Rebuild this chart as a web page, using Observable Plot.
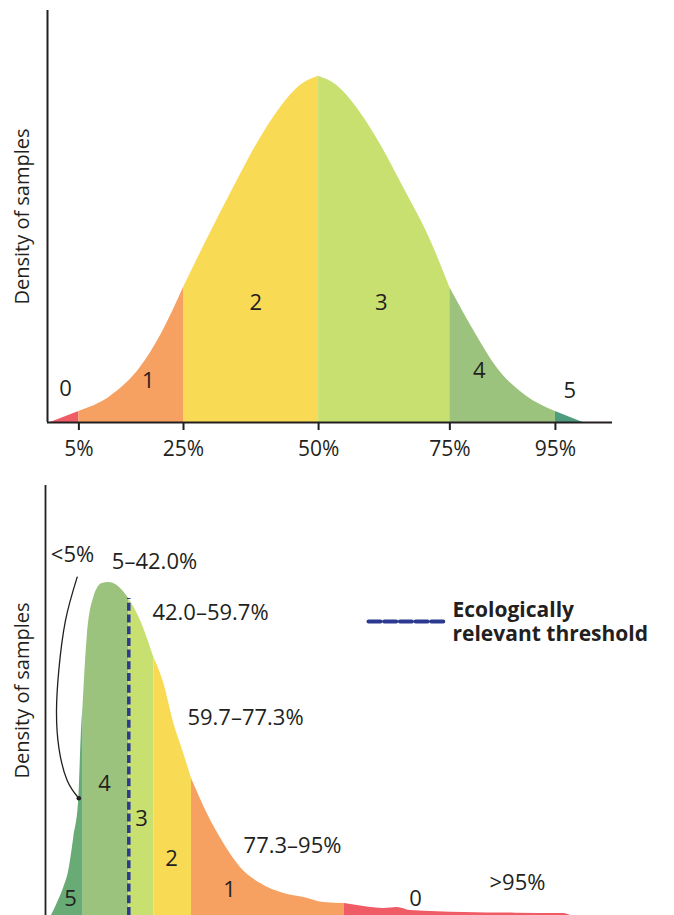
<!DOCTYPE html>
<html><head><meta charset="utf-8">
<script src="https://cdn.jsdelivr.net/npm/d3@7"></script>
<script src="https://cdn.jsdelivr.net/npm/@observablehq/plot@0.6"></script>
<style>
html,body{margin:0;padding:0;background:#fff;overflow:hidden}
#top,#bottom{display:block;line-height:0}
svg{display:block}
</style></head><body>
<div id="top"></div><div id="bottom"></div>
<script>
// ---------- Top panel: symmetric density (x in SD from the median) ----------
const topX = [-2.82, -2.52, -2.19, -1.87, -1.66, -1.42, -1.17, -0.89, -0.64, -0.40, -0.19, 0, 0.19, 0.40, 0.64, 0.89, 1.17, 1.38, 1.66, 1.87, 2.19, 2.49, 2.78];
const topDensity = [0, 0.032, 0.075, 0.16, 0.252, 0.39, 0.53, 0.68, 0.808, 0.91, 0.974, 1, 0.974, 0.91, 0.808, 0.68, 0.53, 0.39, 0.252, 0.16, 0.075, 0.032, 0];
const topBreaks = [-2.52, -1.42, 0, 1.38, 2.49];
const topTickLabels = ["5%", "25%", "50%", "75%", "95%"];
const topScores = ["0", "1", "2", "3", "4", "5"];
const topScoreX = [-2.66, -1.79, -0.66, 0.66, 1.69, 2.64];
const topScoreY = [0.098, 0.121, 0.344, 0.344, 0.150, 0.09];

// ---------- Bottom panel: right-skewed density ----------
const bottomX = [0.6, 1.17, 1.83, 2.33, 2.83, 3.33, 3.57, 3.77, 4.17, 4.83, 5.67, 6.33, 7.17, 8.33, 9.5, 10.83, 11.83, 12.83, 13.83, 14.6, 16.17, 17.83, 19.5, 21.5, 23.83, 25.83, 27.83, 29.9, 31.83, 33.83, 35.17, 36.5, 41.83, 47.0, 51.83, 52.5];
const bottomDensity = [0, 0.036, 0.084, 0.135, 0.234, 0.351, 0.535, 0.637, 0.835, 0.955, 0.997, 1.0, 0.991, 0.952, 0.886, 0.775, 0.697, 0.577, 0.486, 0.411, 0.306, 0.216, 0.144, 0.096, 0.066, 0.054, 0.039, 0.036, 0.027, 0.021, 0.024, 0.015, 0.009, 0.007, 0.006, 0];
const bottomBreaks = [3.77, 8.33, 10.83, 14.6, 29.9];
const bottomScores = ["5", "4", "3", "2", "1", "0"];
const bottomScoreX = [2.5, 5.9, 9.6, 12.6, 18.4, 37.0];
const bottomScoreY = [0.05, 0.396, 0.291, 0.171, 0.078, 0.05];
const rangeLabels = ["<5%", "5–42.0%", "42.0–59.7%", "59.7–77.3%", "77.3–95%", ">95%"];
const rangeLabelX = [2.7, 10.9, 16.5, 20.0, 24.7, 47.2];
const rangeLabelY = [1.081, 1.06, 0.907, 0.592, 0.21, 0.099];
const threshold = 8.33;
const thresholdTop = 0.952;
const leaderX = [3.17, 2.0, 1.33, 1.1, 1.33, 2.17, 3.33];
const leaderY = [1.016, 0.886, 0.736, 0.616, 0.505, 0.405, 0.352];
const legendLabel = "Ecologically\nrelevant threshold";
const legendX = [32.3, 39.8];
const legendY = 0.883;
const legendTextX = 40.7;

// ---------- Colours ----------
const scoreColors = {"0": "#ef5c66", "1": "#f6a062", "2": "#f9da55", "3": "#c8e070", "4": "#9cc37d"};
const topFive = "#4e9c7e";
const bottomFive = "#68ab75";
const ink = "#231f20";
const blue = "#2b3990";
const FONT = "'Open Sans', 'Noto Sans', sans-serif";

function bands(xs, ys, breaks, labels) {
  const rows = [];
  labels.forEach((lab, i) => {
    const lo = i === 0 ? -Infinity : breaks[i - 1];
    const hi = i === labels.length - 1 ? Infinity : breaks[i];
    xs.forEach((x, j) => {
      if (x >= lo - 1e-9 && x <= hi + 1e-9) rows.push({x, d: ys[j], band: lab});
    });
  });
  return rows;
}

const topRows = bands(topX, topDensity, topBreaks, topScores);
const bottomRows = bands(bottomX, bottomDensity, bottomBreaks, bottomScores);

const topPlot = Plot.plot({
  width: 674, height: 470,
  marginLeft: 47, marginRight: 62, marginTop: 10, marginBottom: 48,
  x: {domain: [-2.85, 3.09], label: null},
  y: {domain: [0, 1.19], axis: null},
  color: {domain: topScores, range: topScores.map(s => s === "5" ? topFive : scoreColors[s])},
  style: {fontFamily: FONT, color: ink, background: "#fff"},
  marks: [
    Plot.areaY(topRows, {x: "x", y1: 0, y2: "d", fill: "band", z: "band", curve: "monotone-x"}),
    Plot.ruleY([0], {stroke: ink, strokeWidth: 2}),
    Plot.ruleX([-2.85], {stroke: ink, strokeWidth: 2}),
    Plot.axisX({ticks: topBreaks, tickFormat: d => topTickLabels[topBreaks.indexOf(d)], label: null,
      tickSize: 8, tickPadding: 11, fontSize: 21, stroke: ink, strokeWidth: 2, fill: ink}),
    Plot.text(topScores, {x: topScoreX, y: topScoreY, text: d => d, fontSize: 22, fill: ink}),
    Plot.text(["Density of samples"], {frameAnchor: "left", textAnchor: "middle", rotate: -90, dx: -25, fontSize: 20, fill: ink})
  ]
});
document.getElementById("top").appendChild(topPlot);

const bottomPlot = Plot.plot({
  width: 674, height: 445,
  marginLeft: 45, marginRight: 62, marginTop: 15, marginBottom: 0,
  x: {domain: [0, 56.7], axis: null},
  y: {domain: [0, 1.291], axis: null},
  color: {domain: bottomScores, range: bottomScores.map(s => s === "5" ? bottomFive : scoreColors[s])},
  style: {fontFamily: FONT, color: ink, background: "#fff"},
  marks: [
    Plot.areaY(bottomRows, {x: "x", y1: 0, y2: "d", fill: "band", z: "band", curve: "monotone-x"}),
    Plot.ruleX([0], {stroke: ink, strokeWidth: 1.8}),
    Plot.ruleX([threshold], {y1: 0, y2: thresholdTop, stroke: blue, strokeWidth: 3.5, strokeDasharray: "8,3.7"}),
    Plot.line(leaderX.map((x, i) => [x, leaderY[i]]), {curve: "natural", stroke: ink, strokeWidth: 1.3}),
    Plot.dot([[leaderX[leaderX.length - 1], leaderY[leaderY.length - 1]]], {r: 2.3, fill: ink, stroke: null}),
    Plot.text(bottomScores, {x: bottomScoreX, y: bottomScoreY, text: d => d, fontSize: 22, fill: ink}),
    Plot.text(rangeLabels, {x: rangeLabelX, y: rangeLabelY, text: d => d, fontSize: 22, fill: ink}),
    Plot.line(legendX.map(x => [x, legendY]), {stroke: blue, strokeWidth: 4, strokeDasharray: "12,3.7"}),
    Plot.text([legendLabel], {x: legendTextX, y: legendY, textAnchor: "start", lineAnchor: "middle",
      fontWeight: "bold", fontSize: 21, lineHeight: 1.15, fill: ink}),
    Plot.text(["Density of samples"], {frameAnchor: "left", textAnchor: "middle", rotate: -90, dx: -23, dy: -10, fontSize: 20, fill: ink})
  ]
});
document.getElementById("bottom").appendChild(bottomPlot);
</script>
</body></html>
